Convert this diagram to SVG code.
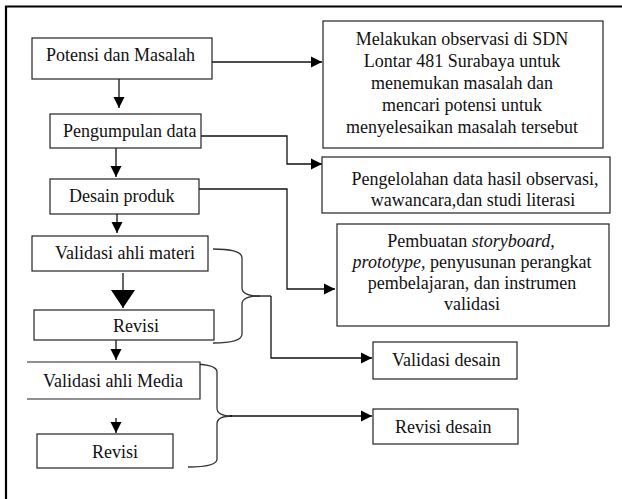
<svg xmlns="http://www.w3.org/2000/svg" width="622" height="499" viewBox="0 0 622 499">
<style>
.box{fill:#fff;stroke:#222;stroke-width:1.2}
.t{font-family:"Liberation Serif","Times New Roman",serif;font-size:18px;fill:#111}
.c{text-anchor:middle}
.ln{fill:none;stroke:#111;stroke-width:1.3}
.br{fill:none;stroke:#333;stroke-width:1.3}
</style>
<defs>
<marker id="ah" markerUnits="userSpaceOnUse" markerWidth="12" markerHeight="12" refX="11" refY="6" orient="auto">
<path d="M0,0.5 L11,6 L0,11.5 Z" fill="#000"/>
</marker>
<marker id="ahb" markerUnits="userSpaceOnUse" markerWidth="20" markerHeight="26" refX="18" refY="13" orient="auto">
<path d="M0,1 L18,13 L0,25 Z" fill="#000"/>
</marker>
</defs>
<rect width="622" height="499" fill="#fff"/>
<g id="frame">
<path d="M6,499 L6,6.5 L622,6.5" fill="none" stroke="#000" stroke-width="2.2"/>
</g>
<g id="connectors">
<path class="ln" d="M212,62 L322,62" marker-end="url(#ah)"/>
<path class="ln" d="M119,79 L119,108" marker-end="url(#ah)"/>
<path class="ln" d="M201,136 L287,136 L287,164 L322,164" marker-end="url(#ah)"/>
<path class="ln" d="M116,148 L116,177" marker-end="url(#ah)"/>
<path class="ln" d="M199,189 L287,189 L287,289 L335,289" marker-end="url(#ah)"/>
<path class="ln" d="M117,214 L117,233" marker-end="url(#ah)"/>
<path class="ln" d="M123,273 L123,308" stroke-width="4" marker-end="url(#ahb)"/>
<path class="br" d="M213,249 Q242,249 242,258 L242,288 Q242,296 260,296 L271,296"/>
<path class="br" d="M213,343 Q242,343 242,334 L242,304 Q242,296 260,296"/>
<path class="ln" d="M271,296 L271,358 L372,358" marker-end="url(#ah)"/>
<path class="ln" d="M116,340 L116,360" marker-end="url(#ah)"/>
<path class="br" d="M190,364 Q217,364 217,372 L217,408 Q217,416 232,416"/>
<path class="br" d="M188,467 Q217,467 217,459 L217,424 Q217,416 232,416"/>
<path class="ln" d="M230,416 L372,416" marker-end="url(#ah)"/>
<path class="ln" d="M116,418 L116,433" marker-end="url(#ah)"/>
</g>
<g id="potensi">
<rect class="box" x="32" y="38" width="180" height="41"/>
<text class="t" x="46" y="61" font-size="16.5">Potensi dan Masalah</text>
</g>
<g id="pengumpulan">
<rect class="box" x="50" y="114" width="151" height="34"/>
<text class="t" x="63" y="137">Pengumpulan data</text>
</g>
<g id="desain">
<rect class="box" x="50" y="179" width="149" height="35"/>
<text class="t" x="69" y="202">Desain produk</text>
</g>
<g id="validasi-materi">
<rect class="box" x="32" y="236" width="176" height="35"/>
<text class="t" x="55" y="259">Validasi ahli materi</text>
</g>
<g id="revisi1">
<rect class="box" x="34" y="310" width="180" height="30"/>
<text class="t" x="113" y="332">Revisi</text>
</g>
<g id="validasi-media">
<path class="box" d="M27,362 L200,362 L200,399 L27,399"/>
<text class="t" x="43" y="387">Validasi ahli Media</text>
</g>
<g id="revisi2">
<rect class="box" x="37" y="434" width="136" height="34"/>
<text class="t" x="92" y="458">Revisi</text>
</g>
<g id="observasi">
<rect class="box" x="323" y="21" width="280" height="127"/>
<text class="t c" x="462" y="45">Melakukan observasi di SDN</text>
<text class="t c" x="462" y="67">Lontar 481 Surabaya untuk</text>
<text class="t c" x="462" y="89">menemukan masalah dan</text>
<text class="t c" x="462" y="111">mencari potensi untuk</text>
<text class="t c" x="462" y="133">menyelesaikan masalah tersebut</text>
</g>
<g id="pengelolahan">
<rect class="box" x="322" y="157" width="288" height="56"/>
<text class="t c" x="475" y="185">Pengelolahan data hasil observasi,</text>
<text class="t c" x="473" y="206">wawancara,dan studi literasi</text>
</g>
<g id="pembuatan">
<rect class="box" x="337" y="224" width="272" height="102"/>
<text class="t c" x="471" y="247">Pembuatan <tspan font-style="italic">storyboard,</tspan></text>
<text class="t c" x="472" y="268"><tspan font-style="italic">prototype,</tspan> penyusunan perangkat</text>
<text class="t c" x="472" y="289">pembelajaran, dan instrumen</text>
<text class="t c" x="472" y="310">validasi</text>
</g>
<g id="validasi-desain">
<rect class="box" x="373" y="342" width="144" height="37"/>
<text class="t" x="392" y="366">Validasi desain</text>
</g>
<g id="revisi-desain">
<rect class="box" x="373" y="409" width="145" height="35"/>
<text class="t" x="395" y="433">Revisi desain</text>
</g>
</svg>
